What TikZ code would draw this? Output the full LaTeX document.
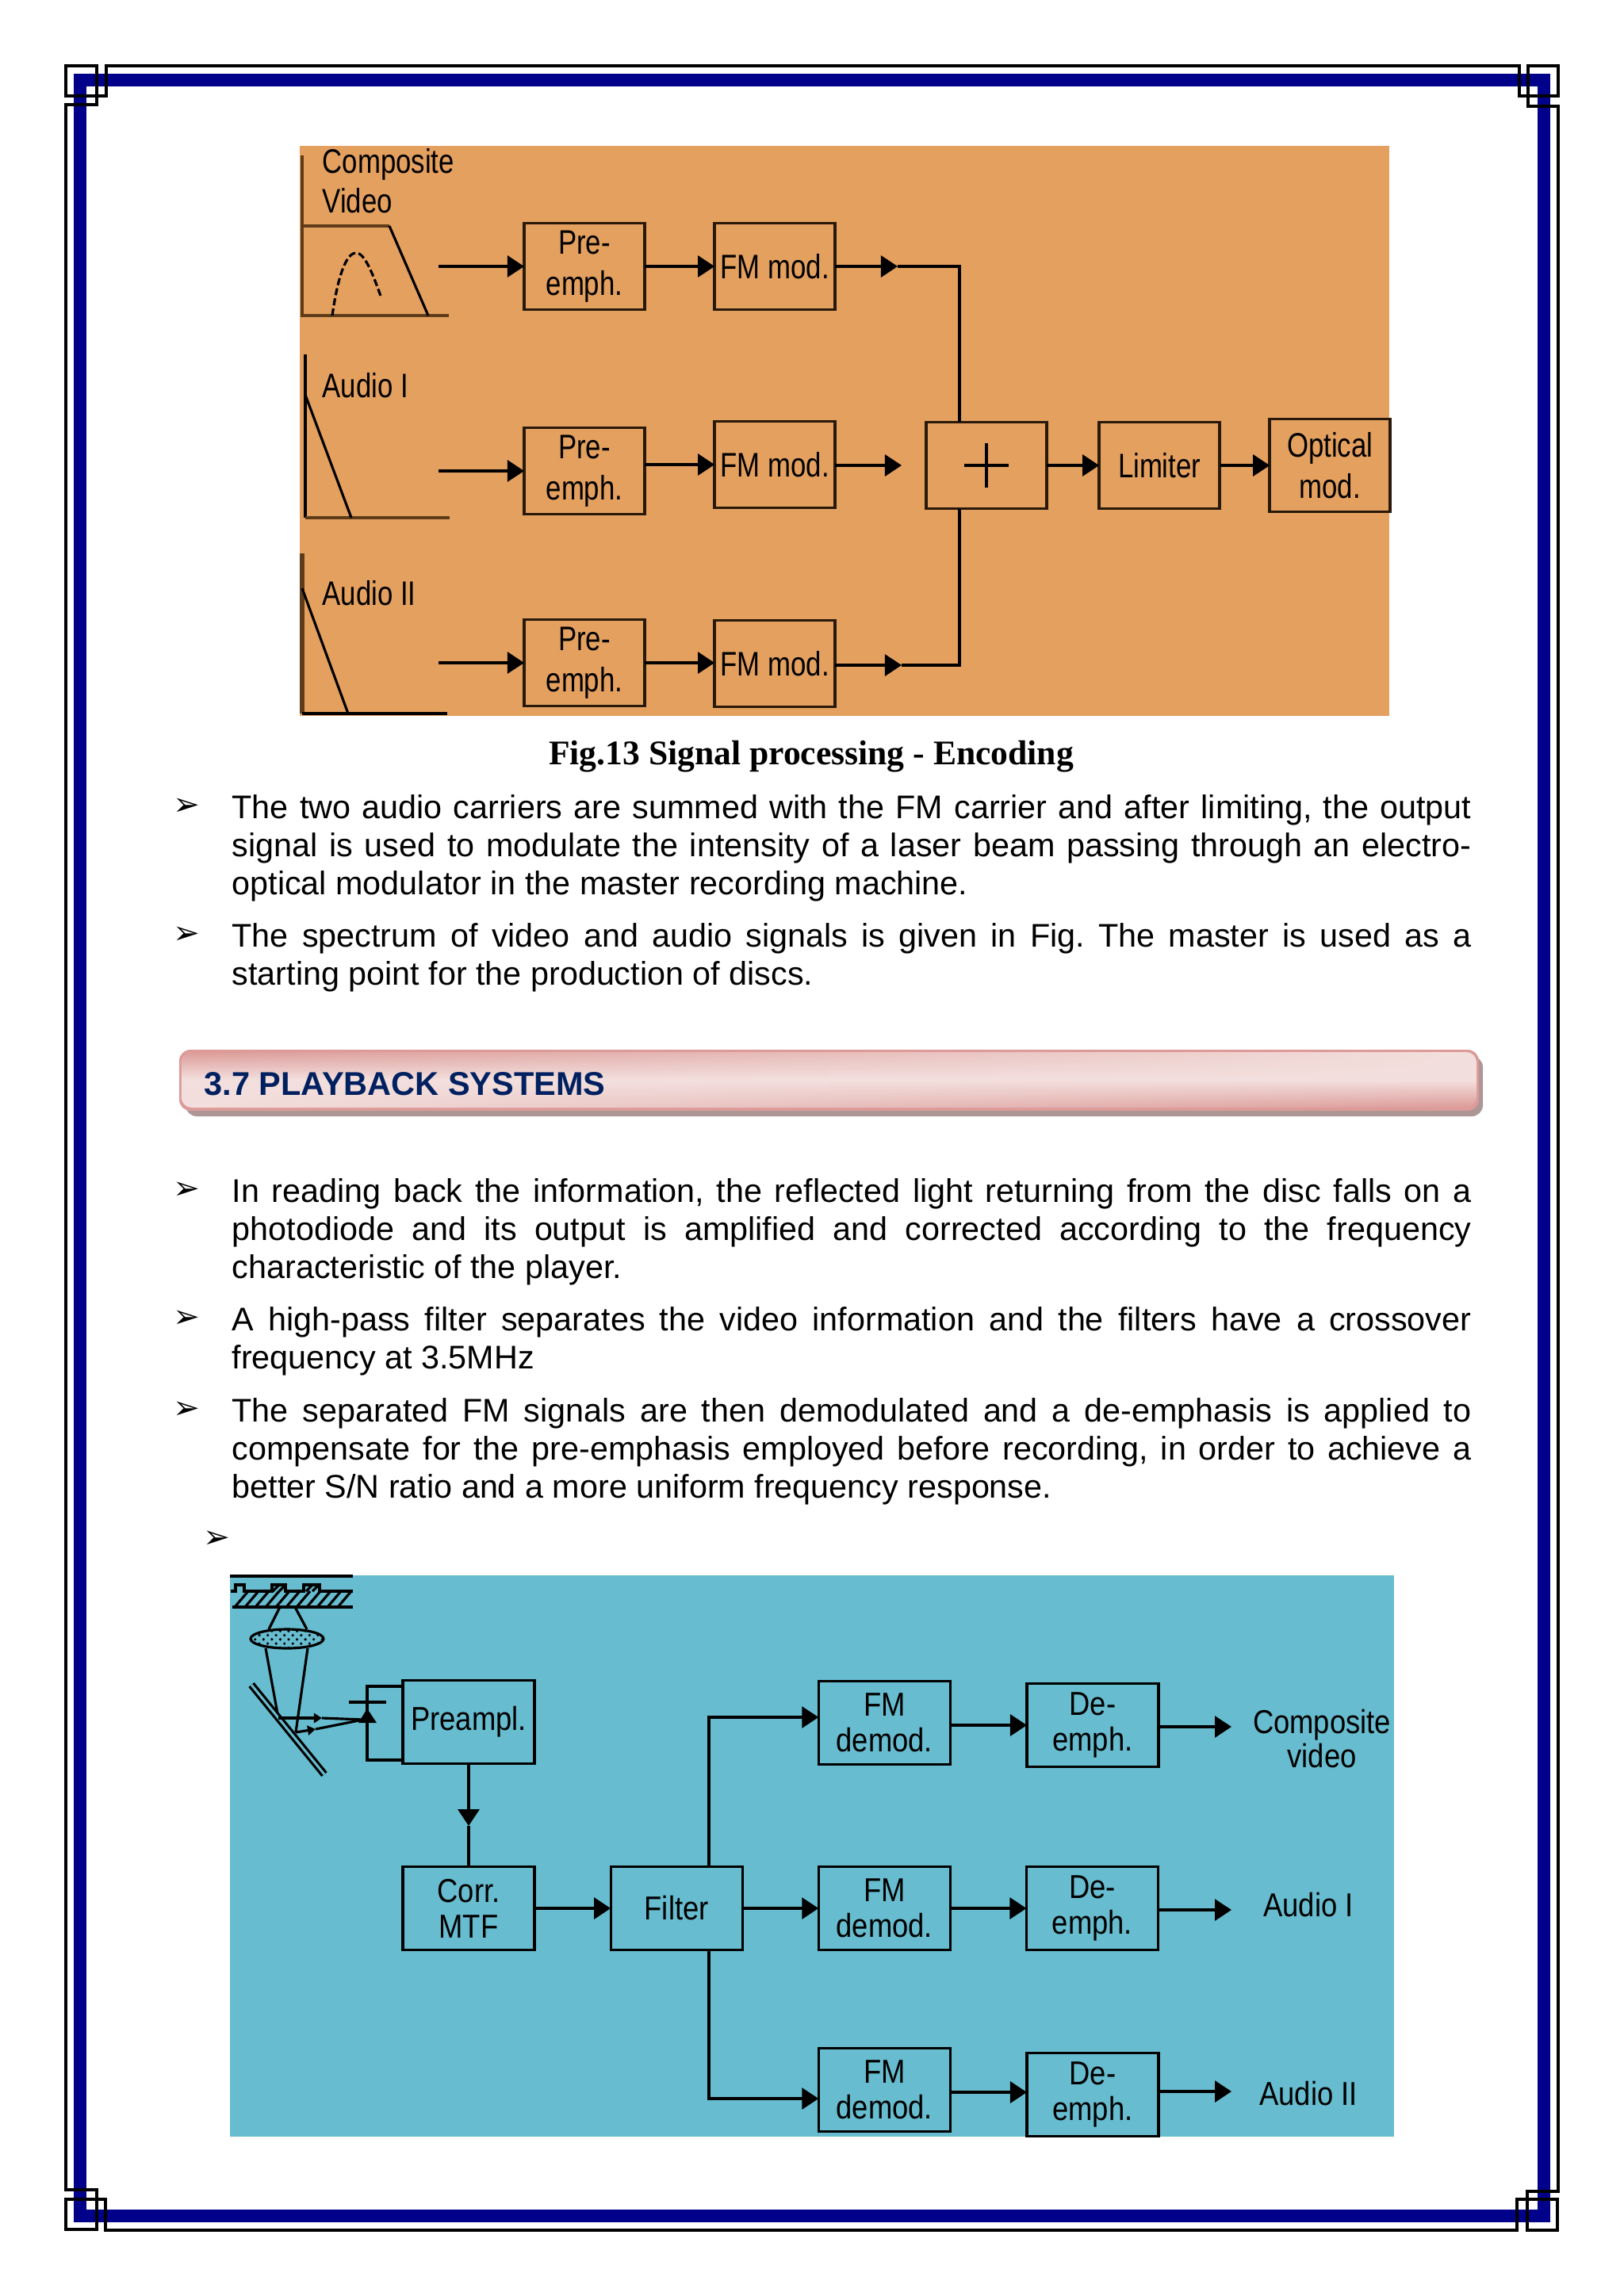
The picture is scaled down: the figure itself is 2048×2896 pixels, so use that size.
\documentclass[tikz,border=0pt]{standalone}
\usepackage{fontspec}
\usepackage{xcolor}
\setmainfont{Liberation Sans}
\newfontfamily\topfigfont[FakeStretch=0.81]{Liberation Sans}
\newfontfamily\lowfigfont[FakeStretch=0.87]{Liberation Sans}
\newfontfamily\capfont{Liberation Serif}
\newfontfamily\bulletfont{DejaVu Sans}
\usetikzlibrary{arrows.meta, positioning, calc, fadings, patterns}
\definecolor{framenavy}{RGB}{0, 0, 139}
\definecolor{orangefig}{RGB}{228, 160, 95}
\definecolor{tealfig}{RGB}{103, 188, 207}
\definecolor{specbrown}{RGB}{95, 60, 25}
\definecolor{boxdark}{RGB}{40, 25, 10}
\definecolor{bandlight}{RGB}{243, 224, 222}
\definecolor{bandpink}{RGB}{220, 155, 152}
\definecolor{bandshade}{RGB}{172, 150, 150}
\definecolor{titlenavy}{RGB}{0, 32, 96}
\frenchspacing

\begin{document}
\begin{tikzpicture}[
        x=0.01cm, y=-0.01cm,
        wire/.style = {line width=0.9pt, black},
        arrow/.style = {line width=0.9pt, ->, >={Triangle[length=0.21cm, width=0.27cm]}, black},
        smallarrow/.style = {line width=0.9pt, ->, >={Triangle[length=0.1cm, width=0.12cm]}, black},
        spec/.style = {line width=1.1pt, specbrown},
        topbox/.style = {draw=boxdark, line width=1.1pt, rectangle, minimum width=1.52cm, minimum height=1.09cm, inner sep=0pt, outer sep=0pt, align=center, font={\topfigfont\fontsize{12.2}{14.8}\selectfont}},
        lowbox/.style = {draw=black, line width=0.9pt, rectangle, minimum width=1.66cm, minimum height=1.05cm, inner sep=0pt, outer sep=0pt, align=center, font={\lowfigfont\fontsize{11.9}{12.8}\selectfont}},
        toplabel/.style = {inner sep=0pt, align=left, font={\topfigfont\fontsize{12.2}{14.2}\selectfont}},
        lowlabel/.style = {inner sep=0pt, align=center, font={\lowfigfont\fontsize{11.9}{12.4}\selectfont}},
        para/.style = {anchor=north west, inner sep=0pt, text width=15.62cm, align=justify, font={\fontsize{11.75}{13.65}\selectfont}},
        bulletmark/.style = {inner sep=0pt, font={\bulletfont\fontsize{11.5}{13}\selectfont}}
    ]
        \useasboundingbox (0,0) rectangle (2048,2896);

        % Page frame
        \draw [framenavy, line width=0.16cm] (101,101) rectangle (1947,2795);
        \draw [black, line width=0.9pt] (134,83) -- (1916,83) -- (1916,121) -- (1965,121) -- (1965,83) -- (1927,83) -- (1927,134) -- (1965,134)
            -- (1965,2764) -- (1926,2764) -- (1926,2813) -- (1964,2813) -- (1964,2774) -- (1913,2774) -- (1913,2813)
            -- (133,2813) -- (133,2774) -- (83,2774) -- (83,2812) -- (122,2812) -- (122,2762) -- (83,2762)
            -- (83,132) -- (122,132) -- (122,83) -- (83,83) -- (83,121) -- (134,121) -- cycle;

        % Encoding figure
        \fill [orangefig] (378,184) rectangle (1752,903);
        \draw [spec] (381,196) -- (381,398) -- (566,398);
        \draw [spec] (381,285) -- (491,285);
        \draw [wire] (491,285) -- (540,398);
        \draw [wire, dash pattern=on 0.09cm off 0.04cm] (419,398) .. controls (428,335) and (440,319) .. (449,319) .. controls (460,319) and (470,345) .. (481,376);
        \draw [wire] (385,447) -- (385,653);
        \draw [spec] (385,653) -- (567,653);
        \draw [wire] (385,498) -- (443,653);
        \draw [spec, line width=1.5pt] (381,698) -- (381,900);
        \draw [wire] (381,900) -- (564,900);
        \draw [wire] (381,742) -- (439,900);
        \node [toplabel, anchor=west] (comp) at (406,228) {Composite\\Video};
        \node [toplabel, anchor=west] (aud1) at (406,486) {Audio I};
        \node [toplabel, anchor=west] (aud2) at (406,748) {Audio II};

        % Nodes
        \node [topbox] (pre1) at (737,336) {Pre-\\emph.};
        \node [topbox, right=0.88cm of pre1] (fm1) {FM mod.};
        \node [topbox] (pre2) at (737,594) {Pre-\\emph.};
        \node [topbox, right=0.88cm of pre2, yshift=0.08cm] (fm2) {FM mod.};
        \node [topbox] (pre3) at (737,836) {Pre-\\emph.};
        \node [topbox, right=0.88cm of pre3, yshift=-0.01cm] (fm3) {FM mod.};
        \node [topbox] (sum) at (1244,587) {};
        \node [topbox, right=0.66cm of sum] (limiter) {Limiter};
        \node [topbox, right=0.63cm of limiter, minimum height=1.17cm] (optical) {Optical\\mod.};
        \coordinate (in1) at (553,336);
        \coordinate (in2) at (553,594);
        \coordinate (in3) at (553,836);
        \coordinate (tip1) at (1132,336);
        \coordinate (tip2) at (1137,587);
        \coordinate (tip3) at (1137,839);
        \coordinate (bus1) at (1210,336);
        \coordinate (bus3) at (1210,839);

        % Connections
        \draw [arrow] (in1) -- (pre1);
        \draw [arrow] (in2) -- (pre2);
        \draw [arrow] (in3) -- (pre3);
        \draw [arrow] (pre1) -- (fm1);
        \draw [arrow] (pre2.east |- fm2) -- (fm2);
        \draw [arrow] (pre3) -- (pre3 -| fm3.west);
        \draw [arrow] (fm1) -- (tip1);
        \draw [arrow] (fm2.east |- tip2) -- (tip2);
        \draw [arrow] (fm3.east |- tip3) -- (tip3);
        \draw [wire] (tip1) -- (bus1) -- (bus1 |- sum.north);
        \draw [wire] (tip3) -- (bus3) -- (bus3 |- sum.south);
        \draw [wire] ($(sum)+(-28,0)$) -- ($(sum)+(28,0)$);
        \draw [wire] ($(sum)+(0,-28)$) -- ($(sum)+(0,28)$);
        \draw [arrow] (sum.east) -- (limiter);
        \draw [arrow] (limiter) ++(77,0) -- (optical.west |- limiter);

        \node [inner sep=0pt, font={\capfont\bfseries\fontsize{12.4}{14}\selectfont}] (caption) at (1023,954) {Fig.13 Signal processing - Encoding};

        % Text before the heading
        \node [para] (para1) at (292,998) {\strut The two audio carriers are summed with the FM carrier and after limiting, the output\linebreak signal is used to modulate the intensity of a laser beam passing through an electro-\linebreak optical modulator in the master recording machine.};
        \node [para] (para2) at (292,1160) {\strut The spectrum of video and audio signals is given in Fig. The master is used as a\linebreak starting point for the production of discs.};
        \node [bulletmark] (mark1) at (235,1018) {➢};
        \node [bulletmark] (mark2) at (235,1180) {➢};

        % Heading band
        \fill [bandshade, rounded corners=0.14cm] (234,1332) rectangle (1870,1408);
        \fill [bandpink, rounded corners=0.14cm] (226,1324) rectangle (1865,1401);
        \path [rounded corners=0.13cm, top color=bandlight, bottom color=bandpink, middle color=bandlight] (229,1327) rectangle (1862,1397);
        \path [rounded corners=0.13cm, top color=bandpink, bottom color=bandlight, middle color=bandlight, path fading=east] (229,1327) rectangle (1862,1397);
        \node [anchor=west, inner sep=0pt, text=titlenavy, font={\bfseries\fontsize{11.8}{14}\selectfont}] (title) at (257,1367) {3.7 PLAYBACK SYSTEMS};

        % Text after the heading
        \node [para] (para3) at (292,1482) {\strut In reading back the information, the reflected light returning from the disc falls on a\linebreak photodiode and its output is amplified and corrected according to the frequency\linebreak characteristic of the player.};
        \node [para] (para4) at (292,1644) {\strut A high-pass filter separates the video information and the filters have a crossover\linebreak frequency at 3.5MHz};
        \node [para] (para5) at (292,1759) {\strut The separated FM signals are then demodulated and a de-emphasis is applied to\linebreak compensate for the pre-emphasis employed before recording, in order to achieve a\linebreak better S/N ratio and a more uniform frequency response.};
        \node [bulletmark] (mark3) at (235,1502) {➢};
        \node [bulletmark] (mark4) at (235,1664) {➢};
        \node [bulletmark] (mark5) at (235,1779) {➢};
        \node [bulletmark] (mark6) at (273,1942) {➢};

        % Playback figure
        \fill [tealfig] (290,1987) rectangle (1758,2695);
        \draw [line width=1.3pt] (290,1988) -- (445,1988);
        \draw [wire] (291,2007) -- (297,2007) -- (297,1999) -- (308,1999) -- (308,2007) -- (343,2007) -- (343,1999) -- (360,1999) -- (360,2007) -- (383,2007) -- (383,1999) -- (403,1999) -- (403,2007) -- (445,2007);
        \draw [wire] (293,2027) -- (445,2027);
        \foreach \hx in {296,309,322,335,348,361,374,387,400,413,426}
            \draw [wire] (\hx,2027) -- ++(17,-20);
        \foreach \hx in {344,352,386,394}
            \draw [wire] (\hx,2007) -- ++(8,-8);
        \draw [wire, fill=tealfig] (362,2067) ellipse (46 and 12);
        \fill [pattern=crosshatch dots, pattern color=black] (362,2067) ellipse (44 and 11);
        \draw [wire] (353,2027) -- (339,2055);
        \draw [wire] (372,2027) -- (387,2055);
        \draw [wire] (335,2079) -- (351,2167);
        \draw [wire] (388,2079) -- (373,2185);
        \draw [black, double=tealfig, double distance=0.03cm, line width=0.9pt] (317,2125) -- (409,2238);
        \coordinate (beam1) at (351,2167);
        \coordinate (beam2) at (373,2185);
        \coordinate (diode) at (458,2169);
        \draw [smallarrow] (beam1) -- (406,2167);
        \draw [wire] (406,2167) -- (diode);
        \draw [smallarrow] (beam2) -- (398,2181);
        \draw [wire] (398,2181) -- (diode);
        \fill [black] (463,2155) -- (475,2173) -- (452,2173) -- cycle;
        \draw [wire] (440,2147) -- (487,2147);

        % Nodes
        \node [lowbox] (preamp) at (591,2172) {Preampl.};
        \node [lowbox] (corr) at (591,2407) {Corr.\\MTF};
        \node [lowbox, right=0.96cm of corr] (filter) {Filter};
        \node [lowbox, right=0.96cm of filter] (dem2) {FM\\demod.};
        \node [lowbox, right=0.96cm of dem2] (de2) {De-\\emph.};
        \node [lowbox, above=1.29cm of dem2] (dem1) {FM\\demod.};
        \node [lowbox, below=1.24cm of dem2] (dem3) {FM\\demod.};
        \node [lowbox] (de1) at (1378,2176) {De-\\emph.};
        \node [lowbox] (de3) at (1378,2642) {De-\\emph.};
        \node [lowlabel] (outc) at (1667,2193) {Composite\\video};
        \node [lowlabel] (outa) at (1650,2403) {Audio I};
        \node [lowlabel] (outb) at (1650,2641) {Audio II};
        \coordinate (dtop) at (463,2127);
        \coordinate (dbot) at (463,2220);
        \coordinate (btop) at (894,2166);
        \coordinate (bbot) at (894,2647);
        \coordinate (tipa) at (1553,2178);
        \coordinate (tipb) at (1553,2409);
        \coordinate (tipc) at (1553,2638);
        \coordinate (linka) at (1295,2176);
        \coordinate (linkc) at (1295,2639);

        % Connections
        \draw [wire] (preamp.west |- dtop) -- (dtop) -- (dbot) -- (preamp.west |- dbot);
        \draw [arrow] (preamp) -- (591,2303);
        \draw [wire] (591,2303) -- (corr);
        \draw [arrow] (corr) -- (filter);
        \draw [arrow] (filter) -- (dem2);
        \draw [arrow] (dem2) -- (de2);
        \draw [arrow] (btop |- filter.north) -- (btop) -- (dem1.west |- btop);
        \draw [arrow] (bbot |- filter.south) -- (bbot) -- (dem3.west |- bbot);
        \draw [arrow] (dem1.east |- linka) -- (de1.west |- linka);
        \draw [arrow] (dem3.east |- linkc) -- (de3.west |- linkc);
        \draw [arrow] (de1.east |- tipa) -- (tipa);
        \draw [arrow] (de2.east |- tipb) -- (tipb);
        \draw [arrow] (de3.east |- tipc) -- (tipc);
    \end{tikzpicture}
\end{document}
